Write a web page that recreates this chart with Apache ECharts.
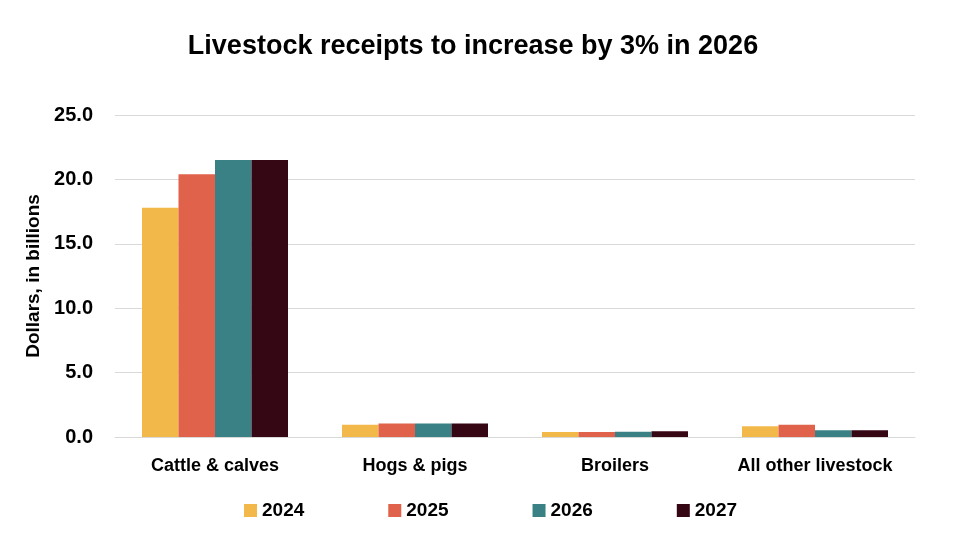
<!DOCTYPE html>
<html>
<head>
<meta charset="utf-8">
<script src="https://cdn.jsdelivr.net/npm/echarts@6/dist/echarts.min.js"></script>
<style>html,body{margin:0;padding:0;background:#fff;}#c{width:956px;height:550px;}</style>
</head>
<body>
<div id="c"></div>
<script>
var categories = ['Cattle & calves', 'Hogs & pigs', 'Broilers', 'All other livestock'];
var seriesNames = ['2024', '2025', '2026', '2027'];
var v2024 = [17.8, 0.96, 0.39, 0.83];
var v2025 = [20.4, 1.04, 0.39, 0.96];
var v2026 = [21.5, 1.04, 0.40, 0.52];
var v2027 = [21.5, 1.04, 0.44, 0.52];
var yTicks = [0, 5, 10, 15, 20, 25];
var colors = ['#F2B94A', '#E0624A', '#3A8186', '#350614'];
var values = [v2024, v2025, v2026, v2027];

var chart = echarts.init(document.getElementById('c'));
var font = 'Liberation Sans, Arial, sans-serif';
chart.setOption({
  animation: false,
  title: {
    text: 'Livestock receipts to increase by 3% in 2026',
    left: 468, top: 28, textAlign: 'center',
    textStyle: {fontFamily: font, fontSize: 27, fontWeight: 'bold', color: '#000'}
  },
  legend: {
    data: seriesNames,
    bottom: 25, left: 239,
    itemWidth: 13, itemHeight: 13, itemGap: 84,
    icon: 'rect',
    textStyle: {fontFamily: font, fontSize: 19, fontWeight: 'bold', color: '#000'}
  },
  grid: {left: 115, right: 41, top: 115, bottom: 113},
  xAxis: {
    type: 'category', data: categories,
    axisTick: {show: false},
    axisLine: {lineStyle: {color: '#d9d9d9'}},
    axisLabel: {interval: 0, fontFamily: font, fontSize: 18, fontWeight: 'bold', color: '#000', margin: 20}
  },
  yAxis: {
    type: 'value', min: yTicks[0], max: yTicks[yTicks.length - 1], interval: 5,
    name: 'Dollars, in billions', nameLocation: 'middle', nameGap: 57, nameRotate: 90,
    nameTextStyle: {fontFamily: font, fontSize: 19, fontWeight: 'bold', color: '#000'},
    axisLine: {show: false}, axisTick: {show: false},
    splitLine: {lineStyle: {color: '#d9d9d9'}},
    axisLabel: {fontFamily: font, fontSize: 20, fontWeight: 'bold', color: '#000', margin: 22,
      formatter: function (v) { return v.toFixed(1); }}
  },
  series: seriesNames.map(function (n, i) {
    return {name: n, type: 'bar', data: values[i], barGap: '0%', barCategoryGap: '27%',
      itemStyle: {color: colors[i]}};
  })
});
</script>
</body>
</html>
